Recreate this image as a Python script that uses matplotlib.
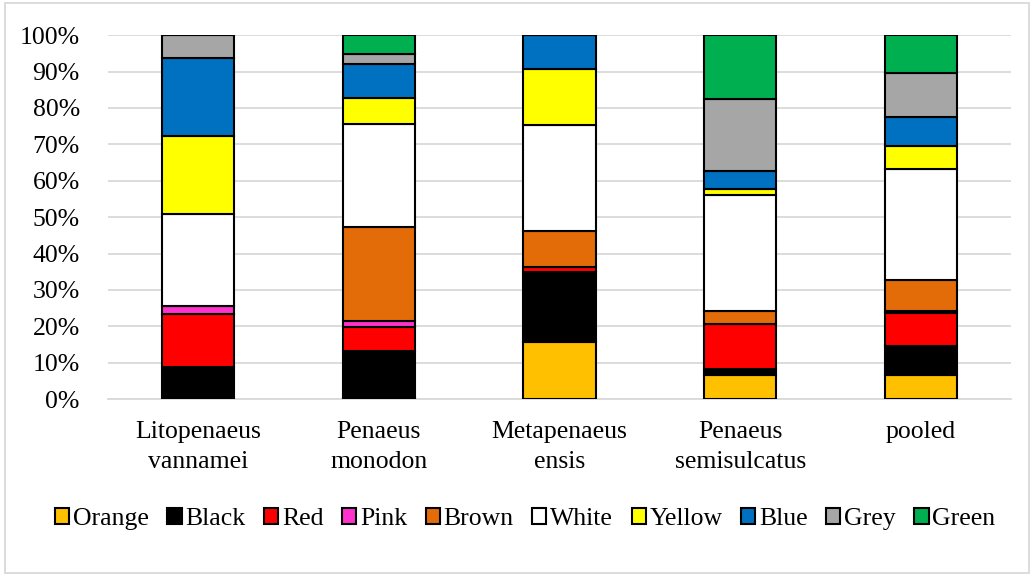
import numpy as np
import matplotlib.pyplot as plt
from matplotlib.patches import Rectangle
from matplotlib.ticker import PercentFormatter

plt.rcParams['font.family'] = ['Liberation Serif', 'DejaVu Serif']

species = ['Litopenaeus\nvannamei', 'Penaeus\nmonodon', 'Metapenaeus\nensis',
           'Penaeus\nsemisulcatus', 'pooled']
colours = ['Orange', 'Black', 'Red', 'Pink', 'Brown', 'White', 'Yellow',
           'Blue', 'Grey', 'Green']

# percentage of each colour per species (stacked bottom to top)
orange = [0.0, 0.3, 15.6, 6.6, 6.6]
black = [8.8, 12.9, 19.4, 1.8, 8.0]
red = [14.6, 6.7, 1.2, 12.3, 9.2]
pink = [2.1, 1.5, 0.0, 0.0, 0.5]
brown = [0.0, 25.9, 10.0, 3.5, 8.4]
white = [25.5, 28.4, 29.1, 32.0, 30.4]
yellow = [21.3, 7.1, 15.5, 1.5, 6.5]
blue = [21.3, 9.4, 9.2, 4.9, 7.8]
grey = [6.4, 2.5, 0.0, 19.8, 12.1]
green = [0.0, 5.3, 0.0, 17.6, 10.5]

series = [orange, black, red, pink, brown, white, yellow, blue, grey, green]
fills = ['#FFC000', '#000000', '#FF0000', '#FF33CC', '#E36C09', '#FFFFFF',
         '#FFFF00', '#0070C0', '#A6A6A6', '#00B050']

fig = plt.figure(figsize=(10.34, 5.76), dpi=100)
ax = fig.add_axes([0.104, 0.307, 0.874, 0.632])

x = np.arange(len(species))
bottom = np.zeros(len(species))
for name, vals, c in zip(colours, series, fills):
    ax.bar(x, vals, 0.4, bottom=bottom, color=c, edgecolor='black',
           linewidth=1.5, label=name, zorder=3)
    bottom += np.array(vals)

ax.set_xlim(-0.5, len(species) - 0.5)
ax.set_ylim(0, 100)
ax.set_yticks(np.arange(0, 101, 10))
ax.yaxis.set_major_formatter(PercentFormatter(decimals=0))
ax.set_xticks(x)
ax.set_xticklabels(species, fontsize=18.5, linespacing=1.45)
ax.tick_params(axis='y', labelsize=18.5, length=0, pad=20)
ax.tick_params(axis='x', length=0, pad=16)
ax.grid(axis='y', color='#D9D9D9', linewidth=1.3, zorder=0)
for s in ['top', 'right', 'left']:
    ax.spines[s].set_visible(False)
ax.spines['bottom'].set_color('#D9D9D9')
ax.spines['bottom'].set_linewidth(1.3)

fig.legend(loc='center', bbox_to_anchor=(0.508, 1 - 519 / 576), ncol=10,
           frameon=False, fontsize=18.5, handlelength=0.55, handleheight=0.55,
           handletextpad=0.15, columnspacing=0.72,
           bbox_transform=fig.transFigure)

# chart-area border
fig.patches.append(Rectangle((0.005, 0.005), 0.99, 0.99, transform=fig.transFigure,
                             fill=False, edgecolor='#D9D9D9', linewidth=1.3))

fig.savefig('out.png', dpi=100)
